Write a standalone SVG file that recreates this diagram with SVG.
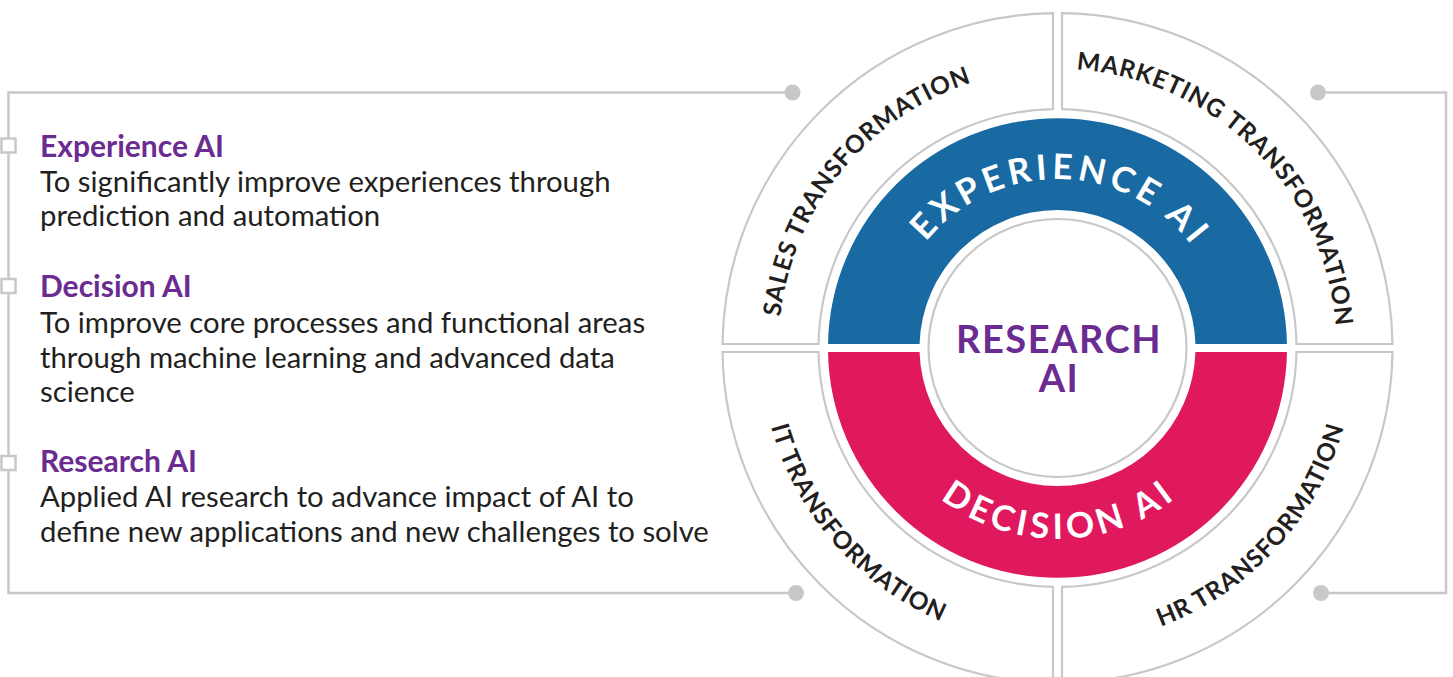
<svg xmlns="http://www.w3.org/2000/svg" width="1453" height="677" viewBox="0 0 1453 677">
  <style>
    .line { fill: none; stroke: #c8c8c8; stroke-width: 2.5; }
    .seg { fill: #ffffff; stroke: #c8c8c8; stroke-width: 2.2; }
    .dot { fill: #c8c8c8; }
    .sq { fill: #ffffff; stroke: #c8c8c8; stroke-width: 2.5; }
    .head { font-family: Lato, "Liberation Sans", sans-serif; font-weight: 700; font-size: 30px; fill: #6a2c91; }
    .body { font-family: Lato, "Liberation Sans", sans-serif; font-weight: 400; font-size: 29.3px; fill: #231f20; }
    .ring { font-family: Lato, "Liberation Sans", sans-serif; font-weight: 700; font-size: 24.5px; fill: #231f20; letter-spacing: 0.8px; }
    .band { font-family: Lato, "Liberation Sans", sans-serif; font-weight: 700; font-size: 35px; fill: #ffffff; letter-spacing: 4.5px; }
    .core { font-family: Lato, "Liberation Sans", sans-serif; font-weight: 700; font-size: 38px; fill: #6a2c91; letter-spacing: 1.5px; }
  </style>
  <defs>
    <path id="pSales" d="M817.6,490.4 A279,279 0 0 1 1149.7,84.7"/>
    <path id="pMarketing" d="M938.5,95.6 A279,279 0 0 1 1310.9,464.8"/>
    <path id="pIT" d="M797.2,204.9 A297,297 0 0 0 1164.9,624.9"/>
    <path id="pHR" d="M943.8,622.4 A297,297 0 0 0 1320.9,210.9"/>
    <path id="pExp" d="M889.5,329.5 A169,169 0 0 1 1226.1,337.1"/>
    <path id="pDec" d="M867.4,366.6 A191,191 0 0 0 1247.9,362.7"/>
  </defs>

  <g id="connectors">
    <path class="line" d="M792,92.5 H8.5 V593 H796"/>
    <path class="line" d="M1318,92.5 H1446 V593 H1322"/>
    <circle class="dot" cx="792.5" cy="92.5" r="8"/>
    <circle class="dot" cx="796" cy="593" r="8"/>
    <circle class="dot" cx="1318" cy="92.5" r="8"/>
    <circle class="dot" cx="1321" cy="593" r="8"/>
  </g>

  <g id="legend-experience">
    <rect class="sq" x="1.5" y="138.5" width="14" height="14"/>
    <text class="head" x="40" y="156.5">Experience AI</text>
    <text class="body" x="40" y="191.5">To significantly improve experiences through</text>
    <text class="body" x="40" y="226">prediction and automation</text>
  </g>
  <g id="legend-decision">
    <rect class="sq" x="1.5" y="279" width="14" height="14"/>
    <text class="head" x="40" y="296.5">Decision AI</text>
    <text class="body" x="40" y="333">To improve core processes and functional areas</text>
    <text class="body" x="40" y="367.5">through machine learning and advanced data</text>
    <text class="body" x="40" y="401.5">science</text>
  </g>
  <g id="legend-research">
    <rect class="sq" x="1.5" y="456" width="14" height="14"/>
    <text class="head" x="40" y="472">Research AI</text>
    <text class="body" x="40" y="507">Applied AI research to advance impact of AI to</text>
    <text class="body" x="40" y="541.5">define new applications and new challenges to solve</text>
  </g>

  <g id="sales-transformation">
    <path class="seg" d="M1053,13.03 L1053,109.04 A239,239 0 0 0 818.54,344 L722.53,344 A335,335 0 0 1 1053,13.03 Z"/>
    <text class="ring" text-anchor="middle"><textPath href="#pSales" startOffset="50%">SALES TRANSFORMATION</textPath></text>
  </g>
  <g id="marketing-transformation">
    <path class="seg" d="M1062,13.03 A335,335 0 0 1 1392.47,344 L1296.46,344 A239,239 0 0 0 1062,109.04 Z"/>
    <text class="ring" text-anchor="middle"><textPath href="#pMarketing" startOffset="50%">MARKETING TRANSFORMATION</textPath></text>
  </g>
  <g id="it-transformation">
    <path class="seg" d="M722.53,352 L818.54,352 A239,239 0 0 0 1053,586.96 L1053,682.97 A335,335 0 0 1 722.53,352 Z"/>
    <text class="ring" text-anchor="middle"><textPath href="#pIT" startOffset="50%">IT TRANSFORMATION</textPath></text>
  </g>
  <g id="hr-transformation">
    <path class="seg" d="M1062,586.96 A239,239 0 0 0 1296.46,352 L1392.47,352 A335,335 0 0 1 1062,682.97 Z"/>
    <text class="ring" text-anchor="middle"><textPath href="#pHR" startOffset="50%">HR TRANSFORMATION</textPath></text>
  </g>

  <g id="experience-ai">
    <path fill="#196aa3" d="M828.03,344 A229.5,229.5 0 0 1 1286.97,344 L1195.44,344 A138,138 0 0 0 919.56,344 Z"/>
    <text class="band" text-anchor="middle"><textPath href="#pExp" startOffset="50%">EXPERIENCE AI</textPath></text>
  </g>
  <g id="decision-ai">
    <path fill="#e0185e" d="M828.03,352 A229.5,229.5 0 0 0 1286.97,352 L1195.44,352 A138,138 0 0 1 919.56,352 Z"/>
    <text class="band" text-anchor="middle"><textPath href="#pDec" startOffset="50%">DECISION AI</textPath></text>
  </g>
  <g id="research-ai">
    <circle cx="1057.5" cy="348" r="129" fill="#ffffff" stroke="#c8c8c8" stroke-width="2.2"/>
    <text class="core" x="1059" y="353" text-anchor="middle">RESEARCH</text>
    <text class="core" x="1059" y="392" text-anchor="middle">AI</text>
  </g>
</svg>
